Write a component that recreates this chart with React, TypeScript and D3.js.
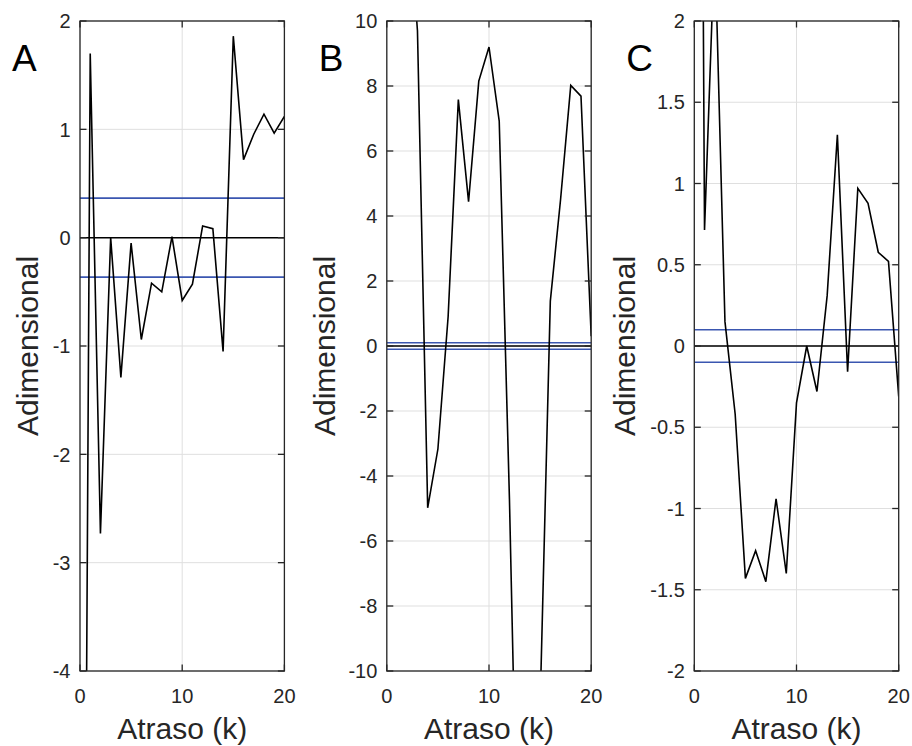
import React from "react";
import * as d3 from "d3";

const lags = d3.range(0, 21);
const seriesA = [-14.6, 1.7, -2.73, 0.0, -1.29, -0.05, -0.94, -0.42, -0.5, 0.01, -0.58, -0.43, 0.108, 0.083, -1.05, 1.86, 0.72, 0.955, 1.14, 0.964, 1.12];
const seriesB = [30, 22, 14, 9.7, -4.98, -3.17, 0.9, 7.58, 4.44, 8.15, 9.2, 6.92, -4.7, -19, -18, -11.1, 1.38, 4.5, 8.02, 7.69, 0.3];
const seriesC = [12, 0.714, 2.5, 0.15, -0.42, -1.43, -1.26, -1.45, -0.94, -1.4, -0.35, 0.0, -0.28, 0.31, 1.3, -0.158, 0.97, 0.878, 0.577, 0.52, -0.31];
const thresholdA = 0.365;
const thresholdB = 0.1;
const thresholdC = 0.1;
const yTicksA = [-4, -3, -2, -1, 0, 1, 2];
const yTicksB = [-10, -8, -6, -4, -2, 0, 2, 4, 6, 8, 10];
const yTicksC = [-2, -1.5, -1, -0.5, 0, 0.5, 1, 1.5, 2];
const xTicks = [0, 10, 20];
const panelLetters = ["A", "B", "C"];
const xLabel = "Atraso (k)";
const yLabel = "Adimensional";

const FONT = "'Liberation Sans', Arial, Helvetica, sans-serif";
const AX = "#262626";
const GRID = "#dfdfdf";
const BLUE = "#3a56b0";

const TOP = 21;
const BOTTOM = 671;
const PW = 204.4;
const TL = 6.5;

type PanelProps = {
  left: number;
  data: number[];
  thr: number;
  yTicks: number[];
  letter: string;
  labelX: number;
  id: string;
};

function Panel({ left, data, thr, yTicks, letter, labelX, id }: PanelProps) {
  const x = d3.scaleLinear().domain([0, 20]).range([left, left + PW]);
  const y = d3
    .scaleLinear()
    .domain([yTicks[0], yTicks[yTicks.length - 1]])
    .range([BOTTOM, TOP]);
  const line = d3
    .line<number>()
    .x((_, i) => x(lags[i]))
    .y((d) => y(d));
  const right = left + PW;
  return (
    <g>
      <defs>
        <clipPath id={id}>
          <rect x={left} y={TOP} width={PW} height={BOTTOM - TOP} />
        </clipPath>
      </defs>
      {yTicks.map((t) => (
        <line key={"gy" + t} x1={left} x2={right} y1={y(t)} y2={y(t)} stroke={GRID} strokeWidth={1} />
      ))}
      {xTicks.map((t) => (
        <line key={"gx" + t} x1={x(t)} x2={x(t)} y1={TOP} y2={BOTTOM} stroke={GRID} strokeWidth={1} />
      ))}
      <g clipPath={`url(#${id})`}>
        <line x1={left} x2={right} y1={y(0)} y2={y(0)} stroke="#000" strokeWidth={1.5} />
        <line x1={left} x2={right} y1={y(thr)} y2={y(thr)} stroke={BLUE} strokeWidth={1.7} />
        <line x1={left} x2={right} y1={y(-thr)} y2={y(-thr)} stroke={BLUE} strokeWidth={1.7} />
        <path d={line(data) || ""} fill="none" stroke="#000" strokeWidth={1.6} strokeLinejoin="miter" />
      </g>
      {yTicks.map((t) => (
        <g key={"ty" + t}>
          <line x1={left} x2={left + TL} y1={y(t)} y2={y(t)} stroke={AX} strokeWidth={1.3} />
          <line x1={right} x2={right - TL} y1={y(t)} y2={y(t)} stroke={AX} strokeWidth={1.3} />
          <text x={left - 9.5} y={y(t)} dy="0.36em" textAnchor="end" fontSize={20} fill={AX} fontFamily={FONT}>
            {String(t)}
          </text>
        </g>
      ))}
      {xTicks.map((t) => (
        <g key={"tx" + t}>
          <line x1={x(t)} x2={x(t)} y1={BOTTOM} y2={BOTTOM - TL} stroke={AX} strokeWidth={1.3} />
          <line x1={x(t)} x2={x(t)} y1={TOP} y2={TOP + TL} stroke={AX} strokeWidth={1.3} />
          <text x={x(t)} y={703} textAnchor="middle" fontSize={20} fill={AX} fontFamily={FONT}>
            {String(t)}
          </text>
        </g>
      ))}
      <rect x={left} y={TOP} width={PW} height={BOTTOM - TOP} fill="none" stroke={AX} strokeWidth={1.3} />
      <text x={(left + right) / 2} y={739} textAnchor="middle" fontSize={30} fill={AX} fontFamily={FONT}>
        {xLabel}
      </text>
      <text
        transform={`translate(${labelX},${(TOP + BOTTOM) / 2}) rotate(-90)`}
        textAnchor="middle"
        fontSize={30}
        fill={AX}
        fontFamily={FONT}
      >
        {yLabel}
      </text>
      <text x={left - 68} y={71} fontSize={37} fill="#000" fontFamily={FONT}>
        {letter}
      </text>
    </g>
  );
}

export default function App() {
  return (
    <svg
      width={912}
      height={746}
      style={{ position: "absolute", left: 0, top: 0, background: "#fff" }}
    >
      <rect width={912} height={746} fill="#fff" />
      <Panel left={80} data={seriesA} thr={thresholdA} yTicks={yTicksA} letter={panelLetters[0]} labelX={38} id="clipA" />
      <Panel left={386.8} data={seriesB} thr={thresholdB} yTicks={yTicksB} letter={panelLetters[1]} labelX={334.7} id="clipB" />
      <Panel left={694.3} data={seriesC} thr={thresholdC} yTicks={yTicksC} letter={panelLetters[2]} labelX={635.3} id="clipC" />
    </svg>
  );
}
